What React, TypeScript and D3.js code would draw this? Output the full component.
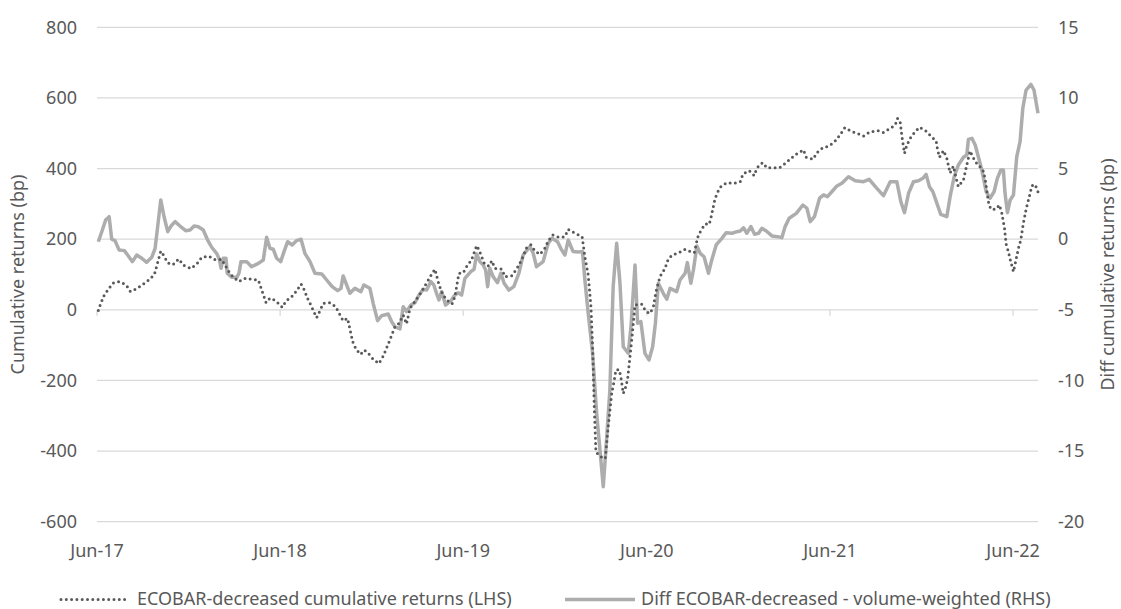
import React from "react";
import * as d3 from "d3";

// Dates are decimal years (weekly series, Jun-2017 to Jul-2022)
const lhsDates = [
  2017.421, 2017.434, 2017.452, 2017.476, 2017.505, 2017.540, 2017.574, 2017.596, 2017.631, 2017.667,
  2017.698, 2017.727, 2017.762, 2017.778, 2017.800, 2017.829, 2017.860, 2017.887, 2017.927, 2017.960,
  2017.986, 2018.024, 2018.062, 2018.095, 2018.131, 2018.155, 2018.188, 2018.226, 2018.262, 2018.295,
  2018.308, 2018.337, 2018.358, 2018.389, 2018.426, 2018.446, 2018.477, 2018.504, 2018.528, 2018.546,
  2018.562, 2018.582, 2018.613, 2018.631, 2018.649, 2018.686, 2018.717, 2018.758, 2018.782, 2018.810,
  2018.828, 2018.853, 2018.873, 2018.895, 2018.922, 2018.953, 2018.977, 2019.008, 2019.041, 2019.063,
  2019.086, 2019.104, 2019.123, 2019.181, 2019.236, 2019.259, 2019.281, 2019.299, 2019.323, 2019.353,
  2019.368, 2019.390, 2019.414, 2019.435, 2019.459, 2019.487, 2019.499, 2019.530, 2019.554, 2019.570,
  2019.587, 2019.626, 2019.641, 2019.678, 2019.705, 2019.732, 2019.760, 2019.783, 2019.805, 2019.832,
  2019.859, 2019.878, 2019.902, 2019.938, 2019.969, 2019.987, 2020.023, 2020.063, 2020.078, 2020.096,
  2020.111, 2020.120, 2020.129, 2020.138, 2020.160, 2020.189, 2020.205, 2020.224, 2020.238, 2020.247,
  2020.265, 2020.274, 2020.287, 2020.302, 2020.311, 2020.320, 2020.333, 2020.351, 2020.387, 2020.411,
  2020.433, 2020.451, 2020.465, 2020.487, 2020.514, 2020.529, 2020.551, 2020.584, 2020.624, 2020.651,
  2020.674, 2020.692, 2020.709, 2020.733, 2020.755, 2020.766, 2020.784, 2020.797, 2020.819, 2020.851,
  2020.887, 2020.924, 2020.939, 2020.973, 2021.000, 2021.015, 2021.046, 2021.070, 2021.138, 2021.166,
  2021.197, 2021.230, 2021.269, 2021.284, 2021.321, 2021.343, 2021.375, 2021.411, 2021.444, 2021.471,
  2021.495, 2021.528, 2021.561, 2021.597, 2021.633, 2021.676, 2021.706, 2021.743, 2021.770, 2021.783,
  2021.797, 2021.807, 2021.821, 2021.830, 2021.848, 2021.875, 2021.903, 2021.939, 2021.965, 2021.994,
  2022.001, 2022.012, 2022.034, 2022.052, 2022.070, 2022.088, 2022.103, 2022.115, 2022.143, 2022.161,
  2022.179, 2022.207, 2022.249, 2022.261, 2022.279, 2022.292, 2022.321, 2022.339, 2022.352, 2022.367,
  2022.376, 2022.388, 2022.398, 2022.416, 2022.425, 2022.443, 2022.456, 2022.470, 2022.485, 2022.507,
  2022.516, 2022.534, 2022.550,
];
const lhsValues = [
  -2, 18, 40, 59, 77, 80, 70, 52, 60, 73,
  85, 100, 166, 154, 133, 128, 144, 126, 117, 131,
  149, 152, 141, 143, 110, 94, 80, 90, 86, 84,
  64, 20, 33, 26, 7, 25, 37, 54, 73, 56,
  34, 13, -22, -3, 18, 20, 9, -31, -24, -90,
  -111, -126, -114, -123, -140, -152, -131, -92, -48, -38,
  -15, -40, 4, 47, 96, 115, 72, 47, 28, 17,
  37, 103, 105, 125, 141, 182, 171, 130, 124, 139,
  117, 115, 94, 96, 115, 141, 176, 184, 167, 157,
  174, 195, 212, 205, 207, 228, 217, 207, 150, 99,
  9, -104, -274, -402, -415, -421, -331, -237, -199, -170,
  -170, -191, -237, -216, -194, -150, -86, 14, 16, -5,
  -10, 9, 51, 94, 117, 139, 155, 160, 171, 165,
  162, 205, 224, 243, 242, 264, 308, 330, 349, 360,
  358, 363, 385, 394, 380, 402, 417, 402, 402, 413,
  427, 441, 453, 432, 426, 445, 459, 464, 479, 497,
  516, 506, 500, 492, 504, 507, 502, 514, 523, 542,
  533, 490, 443, 460, 483, 502, 517, 506, 492, 478,
  455, 432, 451, 429, 387, 407, 372, 349, 368, 410,
  450, 420, 396, 372, 306, 285, 285, 297, 275, 231,
  186, 165, 143, 108, 130, 174, 198, 245, 285, 330,
  351, 355, 334,
];

const rhsDates = [
  2017.421, 2017.443, 2017.461, 2017.480, 2017.494, 2017.512, 2017.534, 2017.563, 2017.585, 2017.607,
  2017.631, 2017.658, 2017.685, 2017.713, 2017.731, 2017.745, 2017.762, 2017.780, 2017.800, 2017.818,
  2017.840, 2017.867, 2017.898, 2017.922, 2017.944, 2017.967, 2017.994, 2018.018, 2018.040, 2018.067,
  2018.082, 2018.091, 2018.103, 2018.118, 2018.125, 2018.149, 2018.177, 2018.189, 2018.200, 2018.231,
  2018.258, 2018.295, 2018.322, 2018.340, 2018.358, 2018.376, 2018.395, 2018.417, 2018.435, 2018.455,
  2018.480, 2018.504, 2018.528, 2018.549, 2018.577, 2018.604, 2018.641, 2018.668, 2018.698, 2018.728,
  2018.746, 2018.758, 2018.777, 2018.795, 2018.822, 2018.855, 2018.871, 2018.904, 2018.922, 2018.946,
  2018.968, 2019.004, 2019.023, 2019.041, 2019.068, 2019.086, 2019.104, 2019.128, 2019.150, 2019.172,
  2019.195, 2019.214, 2019.237, 2019.253, 2019.268, 2019.281, 2019.296, 2019.317, 2019.346, 2019.364,
  2019.386, 2019.405, 2019.423, 2019.455, 2019.473, 2019.487, 2019.505, 2019.523, 2019.536, 2019.547,
  2019.559, 2019.577, 2019.601, 2019.619, 2019.637, 2019.663, 2019.690, 2019.718, 2019.741, 2019.778,
  2019.796, 2019.814, 2019.850, 2019.878, 2019.899, 2019.929, 2019.951, 2019.969, 2019.987, 2020.014,
  2020.041, 2020.065, 2020.078, 2020.096, 2020.120, 2020.142, 2020.178, 2020.196, 2020.214, 2020.232,
  2020.251, 2020.269, 2020.287, 2020.314, 2020.329, 2020.351, 2020.365, 2020.383, 2020.405, 2020.427,
  2020.447, 2020.462, 2020.478, 2020.505, 2020.524, 2020.542, 2020.578, 2020.596, 2020.624, 2020.636,
  2020.655, 2020.669, 2020.688, 2020.706, 2020.727, 2020.751, 2020.769, 2020.793, 2020.824, 2020.847,
  2020.879, 2020.906, 2020.924, 2020.942, 2020.960, 2020.982, 2021.002, 2021.024, 2021.042, 2021.066,
  2021.097, 2021.127, 2021.151, 2021.169, 2021.191, 2021.230, 2021.266, 2021.288, 2021.306, 2021.329,
  2021.357, 2021.379, 2021.400, 2021.424, 2021.452, 2021.479, 2021.515, 2021.552, 2021.597, 2021.628,
  2021.670, 2021.706, 2021.743, 2021.779, 2021.801, 2021.821, 2021.843, 2021.870, 2021.897, 2021.921,
  2021.939, 2021.957, 2021.976, 2021.998, 2022.019, 2022.052, 2022.070, 2022.092, 2022.115, 2022.143,
  2022.161, 2022.170, 2022.189, 2022.207, 2022.225, 2022.243, 2022.267, 2022.288, 2022.310, 2022.328,
  2022.347, 2022.361, 2022.370, 2022.383, 2022.398, 2022.416, 2022.434, 2022.452, 2022.467, 2022.485,
  2022.511, 2022.528, 2022.550,
];
const rhsValues = [
  -0.18, 0.65, 1.36, 1.59, 0.0, -0.1, -0.76, -0.81, -1.19, -1.59,
  -1.12, -1.35, -1.64, -1.28, -0.65, 0.89, 2.78, 1.59, 0.53, 0.93,
  1.24, 0.93, 0.6, 0.65, 0.93, 0.88, 0.65, -0.06, -0.57, -1.0,
  -1.42, -2.06, -1.35, -1.35, -2.41, -2.7, -2.7, -2.41, -1.59, -1.59,
  -1.95, -1.71, -1.47, 0.13, -0.64, -0.71, -1.35, -1.59, -0.88, -0.18,
  -0.41, -0.1, 0.0, -1.0, -1.59, -2.41, -2.46, -2.89, -3.36, -3.64,
  -3.48, -2.6, -3.24, -3.83, -3.48, -3.71, -3.24, -3.48, -4.54, -5.77,
  -5.42, -5.3, -5.84, -6.2, -6.36, -4.78, -5.13, -4.66, -4.5, -3.95,
  -3.55, -3.6, -3.0, -3.24, -3.83, -4.3, -3.71, -4.66, -4.37, -4.02,
  -3.79, -3.95, -2.77, -2.3, -2.13, -1.05, -1.59, -1.83, -2.18, -3.36,
  -2.06, -2.65, -3.08, -2.41, -3.12, -3.6, -3.36, -2.41, -1.12, -0.53,
  -1.0, -1.95, -1.59, -0.29, 0.06, -0.18, -0.76, -1.12, -0.06, -0.88,
  -0.9, -0.88, -2.89, -5.25, -8.08, -12.33, -17.52, -14.21, -10.68, -3.36,
  -0.29, -3.12, -7.61, -8.08, -6.19, -1.83, -5.95, -5.84, -8.08, -8.55,
  -7.61, -5.95, -3.12, -3.83, -4.25, -3.48, -3.71, -2.89, -2.41, -1.66,
  -3.12, -2.18, -0.48, -1.0, -1.24, -2.41, -1.47, -0.41, 0.06, 0.46,
  0.42, 0.53, 0.58, 0.81, 0.42, 0.89, 0.35, 0.42, 0.77, 0.58,
  0.23, 0.18, 0.11, 0.89, 1.48, 1.83, 2.42, 2.19, 1.24, 1.59,
  2.9, 3.13, 3.01, 3.36, 3.77, 3.96, 4.42, 4.14, 4.07, 4.24,
  3.6, 3.08, 4.07, 4.07, 2.65, 1.88, 3.25, 4.07, 4.14, 4.31,
  4.59, 3.72, 3.36, 2.54, 1.76, 1.59, 3.01, 4.42, 5.25, 5.8,
  5.96, 7.07, 7.14, 6.67, 5.8, 4.9, 3.36, 2.9, 3.36, 4.31,
  4.9, 4.9, 3.25, 1.88, 2.78, 3.13, 5.84, 6.9, 9.27, 10.56,
  10.96, 10.56, 8.91,
];

const lhsTicks = [-600, -400, -200, 0, 200, 400, 600, 800];
const rhsTicks = [-20, -15, -10, -5, 0, 5, 10, 15];
const xTickLabels = ["Jun-17", "Jun-18", "Jun-19", "Jun-20", "Jun-21", "Jun-22"];
const xTickYears = [2017, 2018, 2019, 2020, 2021, 2022];

const lhsLabel = "ECOBAR-decreased cumulative returns (LHS)";
const rhsLabel = "Diff ECOBAR-decreased - volume-weighted (RHS)";
const lhsTitle = "Cumulative returns (bp)";
const rhsTitle = "Diff cumulative returns (bp)";

function decToDate(d: number): Date {
  const y = Math.floor(d);
  const s = Date.UTC(y, 0, 1);
  const e = Date.UTC(y + 1, 0, 1);
  return new Date(s + (d - y) * (e - s));
}

const W = 1121;
const H = 609;
const M = { left: 97, right: 1038, top: 27.3, bottom: 521.7 };
const FONT = "'Noto Sans', 'Open Sans', sans-serif";
const TXT = "#595959";
const GRID = "#d9d9d9";
const FS = 18;

export default function App() {
  const x = d3
    .scaleUtc()
    .domain([new Date(Date.UTC(2017, 5, 1)), decToDate(2022.55)])
    .range([M.left, M.right]);
  const yL = d3.scaleLinear().domain([-600, 800]).range([M.bottom, M.top]);
  const yR = d3.scaleLinear().domain([-20, 15]).range([M.bottom, M.top]);

  const lhsPts: [Date, number][] = lhsDates.map((d, i) => [decToDate(d), lhsValues[i]]);
  const rhsPts: [Date, number][] = rhsDates.map((d, i) => [decToDate(d), rhsValues[i]]);

  const lineL = d3
    .line<[Date, number]>()
    .x((p) => x(p[0]))
    .y((p) => yL(p[1]));
  const lineR = d3
    .line<[Date, number]>()
    .x((p) => x(p[0]))
    .y((p) => yR(p[1]));

  const tickDates = xTickYears.map((y) => new Date(Date.UTC(y, 5, 1)));
  const y0 = yL(0);
  const midY = (M.top + M.bottom) / 2;
  const legY = 598.5;

  return (
    <svg
      width={W}
      height={H}
      style={{ position: "absolute", left: 0, top: 0, background: "#fff" }}
      fontFamily={FONT}
    >
      {lhsTicks.map((t) => (
        <line key={"g" + t} x1={M.left} x2={M.right} y1={yL(t)} y2={yL(t)} stroke={GRID} strokeWidth={1.3} />
      ))}
      {tickDates.map((d, i) => (
        <line key={"xt" + i} x1={x(d)} x2={x(d)} y1={y0} y2={y0 + 6} stroke={GRID} strokeWidth={1.3} />
      ))}
      {lhsTicks.map((t) => (
        <text key={"l" + t} x={77} y={yL(t)} dy="0.35em" textAnchor="end" fontSize={FS} fill={TXT}>
          {t}
        </text>
      ))}
      {rhsTicks.map((t) => (
        <text key={"r" + t} x={1058} y={yR(t)} dy="0.35em" textAnchor="start" fontSize={FS} fill={TXT}>
          {t}
        </text>
      ))}
      {tickDates.map((d, i) => (
        <text key={"xl" + i} x={x(d)} y={557} textAnchor="middle" fontSize={FS} fill={TXT}>
          {xTickLabels[i]}
        </text>
      ))}
      <text
        transform={`translate(24,${midY}) rotate(-90)`}
        textAnchor="middle"
        fontSize={FS}
        fill={TXT}
      >
        {lhsTitle}
      </text>
      <text
        transform={`translate(1114,${midY}) rotate(-90)`}
        textAnchor="middle"
        fontSize={FS}
        fill={TXT}
      >
        {rhsTitle}
      </text>

      <path d={lineR(rhsPts) || ""} fill="none" stroke="#ADADAD" strokeWidth={3.5} strokeLinejoin="round" />
      <path
        d={lineL(lhsPts) || ""}
        fill="none"
        stroke="#595959"
        strokeWidth={3}
        strokeDasharray="0 5.3"
        strokeLinecap="round"
        strokeLinejoin="round"
      />

      <line x1={61} x2={128} y1={legY + 1} y2={legY + 1} stroke="#595959" strokeWidth={3} strokeDasharray="0 5.3" strokeLinecap="round" />
      <text x={137} y={legY} dy="0.35em" fontSize={FS} fill={TXT}>
        {lhsLabel}
      </text>
      <line x1={565} x2={635} y1={legY + 1} y2={legY + 1} stroke="#ADADAD" strokeWidth={3.5} />
      <text x={641} y={legY} dy="0.35em" fontSize={FS} fill={TXT}>
        {rhsLabel}
      </text>
    </svg>
  );
}
